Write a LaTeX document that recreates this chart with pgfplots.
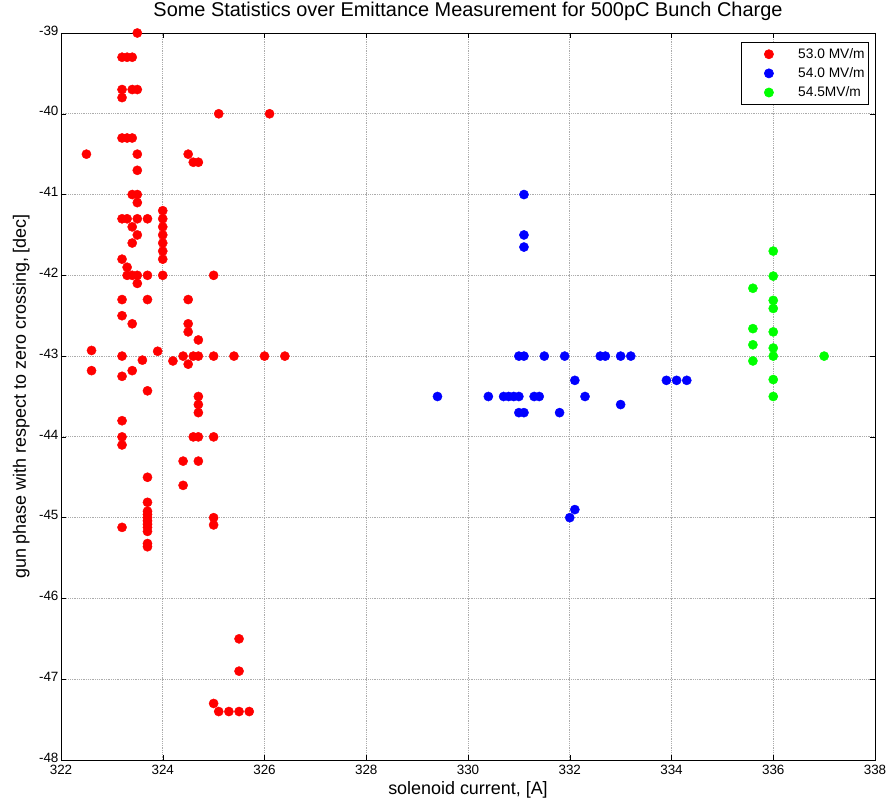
\documentclass[border=0pt]{standalone}
\usepackage{pgfplots}
\pgfplotsset{compat=1.18}
\usepackage{fontspec}
\setmainfont{Liberation Sans}
\usetikzlibrary{calc}
\definecolor{mred}{RGB}{255,0,0}
\definecolor{mblue}{RGB}{0,0,255}
\definecolor{mgreen}{RGB}{0,255,0}
\begin{document}
\begin{tikzpicture}[x=1bp,y=1bp]
\begin{axis}[
  name=ax,
  scale only axis,
  width=814bp, height=727bp,
  xmin=322, xmax=338, ymin=-48, ymax=-39,
  xtick={322,324,...,338}, ytick={-48,-47,...,-39},
  /pgf/number format/assume math mode=true,
  /pgf/number format/1000 sep={},
  tick label style={font=\fontsize{13.5}{15}\selectfont},
  yticklabel style={yshift=2.5bp, xshift=1bp},
  xticklabel style={yshift=-1.5bp},
  tick align=inside,
  major tick length=5bp,
  tick style={black, line width=0.5bp},
  axis line style={black, line width=0.8bp},
  grid=major,
  grid style={gray!65, line width=0.8bp, densely dotted},
  title={Some Statistics over Emittance Measurement for 500pC Bunch Charge},
  title style={font=\fontsize{20}{23}\selectfont, at={(axis description cs:0.5,1.0151)}, anchor=base},
  xlabel={solenoid current, [A]},
  ylabel={gun phase with respect to zero crossing, [dec]},
  label style={font=\fontsize{18}{21}\selectfont},
  xlabel style={at={(axis description cs:0.5,-0.0468)}, anchor=base},
  ylabel style={at={(axis description cs:-0.043,0.5)}, anchor=base},
  legend style={at={(0.9926,0.988)}, anchor=north east, draw=black, line width=0.6bp,
    font=\fontsize{13.8}{16}\selectfont, cells={anchor=west}, row sep=3.7bp,
    inner xsep=2bp, inner ysep=4.5bp},
  legend image code/.code={\path (0bp,0bp) (52bp,0bp); \draw[#1] plot coordinates {(25bp,0bp)};},
]
\addplot[only marks, mark=*, mark size=4.6bp, color=mred, mark options={draw=mred, fill=mred}] coordinates {
(323.5,-39.0)
(323.2,-39.3) (323.3,-39.3) (323.4,-39.3)
(323.2,-39.7) (323.4,-39.7) (323.5,-39.7)
(323.2,-39.8)
(325.1,-40.0) (326.1,-40.0)
(323.2,-40.3) (323.3,-40.3) (323.4,-40.3)
(322.5,-40.5) (323.5,-40.5) (324.5,-40.5)
(324.6,-40.6) (324.7,-40.6)
(323.5,-40.7)
(323.4,-41.0) (323.5,-41.0)
(323.5,-41.1)
(324.0,-41.2)
(323.2,-41.3) (323.3,-41.3) (323.5,-41.3) (323.7,-41.3) (324.0,-41.3)
(323.4,-41.4) (324.0,-41.4)
(323.5,-41.5) (324.0,-41.5)
(323.4,-41.6) (324.0,-41.6)
(324.0,-41.7)
(323.2,-41.8) (324.0,-41.8)
(323.3,-41.9)
(323.3,-42.0) (323.4,-42.0) (323.5,-42.0) (323.7,-42.0) (324.0,-42.0) (325.0,-42.0)
(323.5,-42.1)
(323.2,-42.3) (323.7,-42.3) (324.5,-42.3)
(323.2,-42.5)
(323.4,-42.6) (324.5,-42.6)
(324.5,-42.7)
(324.7,-42.8)
(322.6,-42.93)
(323.9,-42.94)
(323.2,-43.0) (324.4,-43.0) (324.6,-43.0) (324.7,-43.0) (325.0,-43.0) (325.4,-43.0) (326.0,-43.0) (326.4,-43.0)
(323.6,-43.05)
(324.2,-43.06)
(324.5,-43.1)
(322.6,-43.18) (323.4,-43.18)
(323.2,-43.25)
(323.7,-43.43)
(324.7,-43.5) (324.7,-43.6) (324.7,-43.7)
(323.2,-43.8)
(323.2,-44.0) (324.6,-44.0) (324.7,-44.0) (325.0,-44.0)
(323.2,-44.1)
(324.4,-44.3) (324.7,-44.3)
(323.7,-44.5)
(324.4,-44.6)
(323.7,-44.81) (323.7,-44.92) (323.7,-44.96) (323.7,-45.0) (323.7,-45.04) (323.7,-45.08) (323.7,-45.12) (323.7,-45.17) (323.7,-45.32) (323.7,-45.36)
(323.2,-45.12)
(325.0,-45.0) (325.0,-45.09)
(325.5,-46.5) (325.5,-46.9)
(325.0,-47.3)
(325.1,-47.4) (325.3,-47.4) (325.5,-47.4) (325.7,-47.4)
};
\addlegendentry{53.0 MV/m}
\addplot[only marks, mark=*, mark size=4.6bp, color=mblue, mark options={draw=mblue, fill=mblue}] coordinates {
(331.1,-41.0) (331.1,-41.5) (331.1,-41.65)
(331.0,-43.0) (331.1,-43.0) (331.5,-43.0) (331.9,-43.0) (332.6,-43.0) (332.7,-43.0) (333.0,-43.0) (333.2,-43.0)
(332.1,-43.3) (333.9,-43.3) (334.1,-43.3) (334.3,-43.3)
(329.4,-43.5) (330.4,-43.5) (330.7,-43.5) (330.8,-43.5) (330.9,-43.5) (331.0,-43.5) (331.3,-43.5) (331.4,-43.5) (332.3,-43.5)
(333.0,-43.6)
(331.0,-43.7) (331.1,-43.7) (331.8,-43.7)
(332.0,-45.0) (332.1,-44.9)
};
\addlegendentry{54.0 MV/m}
\addplot[only marks, mark=*, mark size=4.6bp, color=mgreen, mark options={draw=mgreen, fill=mgreen}] coordinates {
(336.0,-41.7) (336.0,-42.01) (335.6,-42.16) (336.0,-42.31) (336.0,-42.41)
(335.6,-42.66) (336.0,-42.7) (335.6,-42.86) (336.0,-42.9)
(336.0,-43.0) (337.0,-43.0) (335.6,-43.06)
(336.0,-43.29) (336.0,-43.5)
};
\addlegendentry{54.5MV/m}
\end{axis}
\pgfresetboundingbox
\path ($(ax.south west)+(-61bp,-41bp)$) rectangle ($(ax.north east)+(13bp,33bp)$);
\end{tikzpicture}
\end{document}
